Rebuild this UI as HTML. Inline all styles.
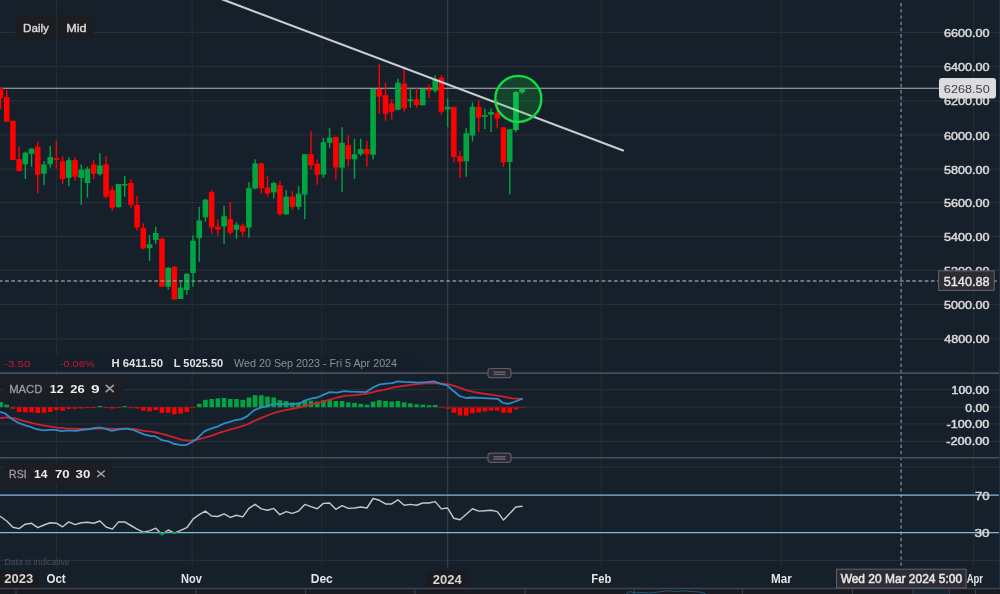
<!DOCTYPE html>
<html><head><meta charset="utf-8"><title>Chart</title>
<style>
html,body{margin:0;padding:0;background:#15202a;}
body{width:1000px;height:594px;overflow:hidden;position:relative;font-family:"Liberation Sans", Arial, sans-serif;}
svg{position:absolute;left:0;top:0;display:block;}
text{font-family:"Liberation Sans", Arial, sans-serif;}
</style></head><body>
<svg width="1000" height="594" viewBox="0 0 1000 594">
<rect x="0" y="0" width="1000" height="594" fill="#15202a"/>

<line x1="0" y1="32.45" x2="999" y2="32.45" stroke="#282e38" stroke-width="1.2"/>
<line x1="0" y1="66.5" x2="999" y2="66.5" stroke="#282e38" stroke-width="1.2"/>
<line x1="0" y1="100.8" x2="999" y2="100.8" stroke="#282e38" stroke-width="1.2"/>
<line x1="0" y1="135.0" x2="999" y2="135.0" stroke="#282e38" stroke-width="1.2"/>
<line x1="0" y1="169.2" x2="999" y2="169.2" stroke="#282e38" stroke-width="1.2"/>
<line x1="0" y1="202.5" x2="999" y2="202.5" stroke="#282e38" stroke-width="1.2"/>
<line x1="0" y1="236.4" x2="999" y2="236.4" stroke="#282e38" stroke-width="1.2"/>
<line x1="0" y1="270.2" x2="999" y2="270.2" stroke="#282e38" stroke-width="1.2"/>
<line x1="0" y1="304.5" x2="999" y2="304.5" stroke="#282e38" stroke-width="1.2"/>
<line x1="0" y1="338.8" x2="999" y2="338.8" stroke="#282e38" stroke-width="1.2"/>
<line x1="0" y1="389.7" x2="999" y2="389.7" stroke="#282e38" stroke-width="1.2"/>
<line x1="0" y1="407.2" x2="999" y2="407.2" stroke="#282e38" stroke-width="1.2"/>
<line x1="0" y1="423.9" x2="999" y2="423.9" stroke="#282e38" stroke-width="1.2"/>
<line x1="0" y1="441.3" x2="999" y2="441.3" stroke="#282e38" stroke-width="1.2"/>
<line x1="0" y1="467.2" x2="999" y2="467.2" stroke="#282e38" stroke-width="1.2"/>
<line x1="0" y1="560.3" x2="999" y2="560.3" stroke="#282e38" stroke-width="1.2"/>
<line x1="56.4" y1="0" x2="56.4" y2="568.8" stroke="#252b35" stroke-width="1.2"/>
<line x1="192.2" y1="0" x2="192.2" y2="568.8" stroke="#252b35" stroke-width="1.2"/>
<line x1="321.7" y1="0" x2="321.7" y2="568.8" stroke="#252b35" stroke-width="1.2"/>
<line x1="601.0" y1="0" x2="601.0" y2="568.8" stroke="#252b35" stroke-width="1.2"/>
<line x1="781.0" y1="0" x2="781.0" y2="568.8" stroke="#252b35" stroke-width="1.2"/>
<line x1="973.5" y1="0" x2="973.5" y2="568.8" stroke="#252b35" stroke-width="1.2"/>
<rect x="0" y="355.5" width="420" height="14" fill="#15202a" fill-opacity="0.85"/>
<line x1="447.6" y1="0" x2="447.6" y2="568.3" stroke="#383a48" stroke-width="1.3"/>
<line x1="0" y1="88.3" x2="939" y2="88.3" stroke="#b2b6ba" stroke-width="1.1"/>
<rect x="-0.20" y="88" width="1.4" height="21.0" fill="#ff0000"/>
<rect x="-2.30" y="88" width="5.6" height="10.2" fill="#ff0000"/>
<rect x="6.01" y="90.2" width="1.4" height="31.5" fill="#ff0000"/>
<rect x="3.91" y="97.2" width="5.6" height="24.5" fill="#ff0000"/>
<rect x="12.22" y="120.8" width="1.4" height="39.2" fill="#ff0000"/>
<rect x="10.12" y="120.8" width="5.6" height="39.2" fill="#ff0000"/>
<rect x="18.43" y="146.7" width="1.4" height="24.8" fill="#ff0000"/>
<rect x="16.33" y="159.2" width="5.6" height="11.8" fill="#ff0000"/>
<rect x="24.64" y="151.7" width="1.4" height="27.3" fill="#00a541"/>
<rect x="22.54" y="152.7" width="5.6" height="11.6" fill="#00a541"/>
<rect x="30.85" y="147.8" width="1.4" height="18.9" fill="#00a541"/>
<rect x="28.75" y="148.7" width="5.6" height="5.1" fill="#00a541"/>
<rect x="37.06" y="141.5" width="1.4" height="51.7" fill="#ff0000"/>
<rect x="34.96" y="146.7" width="5.6" height="28.1" fill="#ff0000"/>
<rect x="43.27" y="161" width="1.4" height="24.0" fill="#00a541"/>
<rect x="41.17" y="164.4" width="5.6" height="9.3" fill="#00a541"/>
<rect x="49.48" y="146" width="1.4" height="21.7" fill="#00a541"/>
<rect x="47.38" y="157" width="5.6" height="7.3" fill="#00a541"/>
<rect x="55.69" y="140.7" width="1.4" height="27.8" fill="#ff0000"/>
<rect x="53.59" y="158.3" width="5.6" height="1.7" fill="#ff0000"/>
<rect x="61.90" y="156.2" width="1.4" height="28.0" fill="#ff0000"/>
<rect x="59.80" y="161.3" width="5.6" height="17.7" fill="#ff0000"/>
<rect x="68.11" y="157.2" width="1.4" height="29.0" fill="#00a541"/>
<rect x="66.01" y="160.2" width="5.6" height="17.6" fill="#00a541"/>
<rect x="74.32" y="157.2" width="1.4" height="23.6" fill="#ff0000"/>
<rect x="72.22" y="160.2" width="5.6" height="16.5" fill="#ff0000"/>
<rect x="80.53" y="164.3" width="1.4" height="40.5" fill="#00a541"/>
<rect x="78.43" y="169.7" width="5.6" height="8.1" fill="#00a541"/>
<rect x="86.74" y="166.7" width="1.4" height="31.0" fill="#00a541"/>
<rect x="84.64" y="168.8" width="5.6" height="14.2" fill="#00a541"/>
<rect x="92.95" y="160.2" width="1.4" height="18.8" fill="#ff0000"/>
<rect x="90.85" y="164.4" width="5.6" height="9.3" fill="#ff0000"/>
<rect x="99.16" y="153.2" width="1.4" height="22.5" fill="#00a541"/>
<rect x="97.06" y="165.5" width="5.6" height="8.7" fill="#00a541"/>
<rect x="105.37" y="156.2" width="1.4" height="42.3" fill="#ff0000"/>
<rect x="103.27" y="164.3" width="5.6" height="32.4" fill="#ff0000"/>
<rect x="111.58" y="186.2" width="1.4" height="24.6" fill="#ff0000"/>
<rect x="109.48" y="190.2" width="5.6" height="17.6" fill="#ff0000"/>
<rect x="117.79" y="184" width="1.4" height="23.8" fill="#00a541"/>
<rect x="115.69" y="184" width="5.6" height="23.0" fill="#00a541"/>
<rect x="124.00" y="176" width="1.4" height="20.7" fill="#00a541"/>
<rect x="121.90" y="184" width="5.6" height="1.5" fill="#00a541"/>
<rect x="130.21" y="179" width="1.4" height="28.8" fill="#ff0000"/>
<rect x="128.11" y="183" width="5.6" height="21.8" fill="#ff0000"/>
<rect x="136.42" y="195.7" width="1.4" height="34.8" fill="#ff0000"/>
<rect x="134.32" y="205" width="5.6" height="22.5" fill="#ff0000"/>
<rect x="142.63" y="223.3" width="1.4" height="25.9" fill="#ff0000"/>
<rect x="140.53" y="227.8" width="5.6" height="20.7" fill="#ff0000"/>
<rect x="148.84" y="235" width="1.4" height="25.8" fill="#00a541"/>
<rect x="146.74" y="244.3" width="5.6" height="3.9" fill="#00a541"/>
<rect x="155.05" y="226.7" width="1.4" height="17.3" fill="#00a541"/>
<rect x="152.95" y="233" width="5.6" height="7.0" fill="#00a541"/>
<rect x="161.26" y="238.2" width="1.4" height="48.5" fill="#ff0000"/>
<rect x="159.16" y="238.7" width="5.6" height="48.0" fill="#ff0000"/>
<rect x="167.47" y="267" width="1.4" height="22.7" fill="#00a541"/>
<rect x="165.37" y="267.8" width="5.6" height="18.9" fill="#00a541"/>
<rect x="173.68" y="266" width="1.4" height="33.9" fill="#ff0000"/>
<rect x="171.58" y="266.7" width="5.6" height="32.6" fill="#ff0000"/>
<rect x="179.89" y="280.7" width="1.4" height="18.3" fill="#00a541"/>
<rect x="177.79" y="287.7" width="5.6" height="11.3" fill="#00a541"/>
<rect x="186.10" y="273" width="1.4" height="21.8" fill="#00a541"/>
<rect x="184.00" y="273.8" width="5.6" height="16.2" fill="#00a541"/>
<rect x="192.31" y="235.2" width="1.4" height="51.5" fill="#00a541"/>
<rect x="190.21" y="240.8" width="5.6" height="32.2" fill="#00a541"/>
<rect x="198.52" y="207" width="1.4" height="54.7" fill="#00a541"/>
<rect x="196.42" y="220.4" width="5.6" height="17.6" fill="#00a541"/>
<rect x="204.73" y="198.7" width="1.4" height="22.8" fill="#00a541"/>
<rect x="202.63" y="199.7" width="5.6" height="17.6" fill="#00a541"/>
<rect x="210.94" y="190" width="1.4" height="43.8" fill="#ff0000"/>
<rect x="208.84" y="192.2" width="5.6" height="35.3" fill="#ff0000"/>
<rect x="217.15" y="219.2" width="1.4" height="16.5" fill="#ff0000"/>
<rect x="215.05" y="226.7" width="5.6" height="3.0" fill="#ff0000"/>
<rect x="223.36" y="205.7" width="1.4" height="38.3" fill="#00a541"/>
<rect x="221.26" y="216.2" width="5.6" height="10.2" fill="#00a541"/>
<rect x="229.57" y="202" width="1.4" height="32.7" fill="#ff0000"/>
<rect x="227.47" y="219.2" width="5.6" height="13.5" fill="#ff0000"/>
<rect x="235.78" y="222.2" width="1.4" height="16.5" fill="#00a541"/>
<rect x="233.68" y="224.8" width="5.6" height="4.9" fill="#00a541"/>
<rect x="241.99" y="223.3" width="1.4" height="13.3" fill="#ff0000"/>
<rect x="239.89" y="225.6" width="5.6" height="6.1" fill="#ff0000"/>
<rect x="248.20" y="182.2" width="1.4" height="55.5" fill="#00a541"/>
<rect x="246.10" y="188.2" width="5.6" height="39.3" fill="#00a541"/>
<rect x="254.41" y="159.3" width="1.4" height="30.0" fill="#00a541"/>
<rect x="252.31" y="163.5" width="5.6" height="25.0" fill="#00a541"/>
<rect x="260.62" y="162.7" width="1.4" height="30.8" fill="#ff0000"/>
<rect x="258.52" y="163.5" width="5.6" height="24.7" fill="#ff0000"/>
<rect x="266.83" y="176.2" width="1.4" height="20.3" fill="#ff0000"/>
<rect x="264.73" y="187.5" width="5.6" height="6.0" fill="#ff0000"/>
<rect x="273.04" y="182" width="1.4" height="16.5" fill="#00a541"/>
<rect x="270.94" y="183" width="5.6" height="9.4" fill="#00a541"/>
<rect x="279.25" y="181" width="1.4" height="34.8" fill="#ff0000"/>
<rect x="277.15" y="185.2" width="5.6" height="28.8" fill="#ff0000"/>
<rect x="285.46" y="190" width="1.4" height="25.2" fill="#00a541"/>
<rect x="283.36" y="196.7" width="5.6" height="17.6" fill="#00a541"/>
<rect x="291.67" y="191.2" width="1.4" height="18.3" fill="#ff0000"/>
<rect x="289.57" y="196.7" width="5.6" height="10.1" fill="#ff0000"/>
<rect x="297.88" y="186.2" width="1.4" height="23.6" fill="#00a541"/>
<rect x="295.78" y="193.7" width="5.6" height="13.1" fill="#00a541"/>
<rect x="304.09" y="154.2" width="1.4" height="65.0" fill="#00a541"/>
<rect x="301.99" y="154.2" width="5.6" height="40.3" fill="#00a541"/>
<rect x="310.30" y="131.2" width="1.4" height="38.2" fill="#ff0000"/>
<rect x="308.20" y="154.2" width="5.6" height="11.1" fill="#ff0000"/>
<rect x="316.51" y="159.3" width="1.4" height="25.5" fill="#ff0000"/>
<rect x="314.41" y="163.8" width="5.6" height="10.9" fill="#ff0000"/>
<rect x="322.72" y="137.7" width="1.4" height="40.0" fill="#00a541"/>
<rect x="320.62" y="142.2" width="5.6" height="32.5" fill="#00a541"/>
<rect x="328.93" y="128.2" width="1.4" height="19.5" fill="#00a541"/>
<rect x="326.83" y="137.7" width="5.6" height="5.1" fill="#00a541"/>
<rect x="335.14" y="136.8" width="1.4" height="42.8" fill="#ff0000"/>
<rect x="333.04" y="136.8" width="5.6" height="30.7" fill="#ff0000"/>
<rect x="341.35" y="127.2" width="1.4" height="65.0" fill="#00a541"/>
<rect x="339.25" y="142.8" width="5.6" height="24.9" fill="#00a541"/>
<rect x="347.56" y="135.3" width="1.4" height="31.2" fill="#ff0000"/>
<rect x="345.46" y="145.2" width="5.6" height="14.1" fill="#ff0000"/>
<rect x="353.77" y="138.7" width="1.4" height="40.1" fill="#00a541"/>
<rect x="351.67" y="154.2" width="5.6" height="5.1" fill="#00a541"/>
<rect x="359.98" y="138.7" width="1.4" height="17.3" fill="#00a541"/>
<rect x="357.88" y="149" width="5.6" height="5.2" fill="#00a541"/>
<rect x="366.19" y="140.7" width="1.4" height="25.8" fill="#ff0000"/>
<rect x="364.09" y="149" width="5.6" height="5.2" fill="#ff0000"/>
<rect x="372.40" y="89" width="1.4" height="70.3" fill="#00a541"/>
<rect x="370.30" y="89" width="5.6" height="65.8" fill="#00a541"/>
<rect x="378.61" y="64.2" width="1.4" height="49.5" fill="#ff0000"/>
<rect x="376.51" y="89" width="5.6" height="7.7" fill="#ff0000"/>
<rect x="384.82" y="82.8" width="1.4" height="37.9" fill="#ff0000"/>
<rect x="382.72" y="95.2" width="5.6" height="18.5" fill="#ff0000"/>
<rect x="391.03" y="99.3" width="1.4" height="20.4" fill="#ff0000"/>
<rect x="388.93" y="103.5" width="5.6" height="8.2" fill="#ff0000"/>
<rect x="397.24" y="78.7" width="1.4" height="31.5" fill="#00a541"/>
<rect x="395.14" y="82.8" width="5.6" height="27.0" fill="#00a541"/>
<rect x="403.45" y="68.2" width="1.4" height="43.5" fill="#ff0000"/>
<rect x="401.35" y="83.7" width="5.6" height="24.6" fill="#ff0000"/>
<rect x="409.66" y="88.2" width="1.4" height="19.5" fill="#00a541"/>
<rect x="407.56" y="99.3" width="5.6" height="1.9" fill="#00a541"/>
<rect x="415.87" y="88.2" width="1.4" height="19.5" fill="#ff0000"/>
<rect x="413.77" y="99.3" width="5.6" height="5.7" fill="#ff0000"/>
<rect x="422.08" y="89" width="1.4" height="16.3" fill="#00a541"/>
<rect x="419.98" y="89" width="5.6" height="16.3" fill="#00a541"/>
<rect x="428.29" y="84.7" width="1.4" height="13.5" fill="#ff0000"/>
<rect x="426.19" y="89" width="5.6" height="1.7" fill="#ff0000"/>
<rect x="434.50" y="75.3" width="1.4" height="17.4" fill="#00a541"/>
<rect x="432.40" y="79.5" width="5.6" height="11.2" fill="#00a541"/>
<rect x="440.71" y="75" width="1.4" height="39.7" fill="#ff0000"/>
<rect x="438.61" y="77.7" width="5.6" height="34.0" fill="#ff0000"/>
<rect x="446.92" y="98.2" width="1.4" height="29.0" fill="#00a541"/>
<rect x="444.82" y="106.8" width="5.6" height="2.7" fill="#00a541"/>
<rect x="453.13" y="106.8" width="1.4" height="55.4" fill="#ff0000"/>
<rect x="451.03" y="106.8" width="5.6" height="50.2" fill="#ff0000"/>
<rect x="459.34" y="151" width="1.4" height="26.8" fill="#ff0000"/>
<rect x="457.24" y="156.2" width="5.6" height="5.6" fill="#ff0000"/>
<rect x="465.55" y="128.2" width="1.4" height="48.6" fill="#00a541"/>
<rect x="463.45" y="133.3" width="5.6" height="28.0" fill="#00a541"/>
<rect x="471.76" y="102.3" width="1.4" height="39.4" fill="#00a541"/>
<rect x="469.66" y="106.8" width="5.6" height="28.7" fill="#00a541"/>
<rect x="477.97" y="100.2" width="1.4" height="32.0" fill="#ff0000"/>
<rect x="475.87" y="106.8" width="5.6" height="10.9" fill="#ff0000"/>
<rect x="484.18" y="108.5" width="1.4" height="20.7" fill="#00a541"/>
<rect x="482.08" y="115" width="5.6" height="1.8" fill="#00a541"/>
<rect x="490.39" y="108.7" width="1.4" height="23.5" fill="#00a541"/>
<rect x="488.29" y="112" width="5.6" height="2.7" fill="#00a541"/>
<rect x="496.60" y="100.1" width="1.4" height="28.1" fill="#ff0000"/>
<rect x="494.50" y="113" width="5.6" height="5.7" fill="#ff0000"/>
<rect x="502.81" y="127.3" width="1.4" height="39.5" fill="#ff0000"/>
<rect x="500.71" y="127.3" width="5.6" height="35.0" fill="#ff0000"/>
<rect x="509.02" y="129.2" width="1.4" height="65.3" fill="#00a541"/>
<rect x="506.92" y="129.2" width="5.6" height="32.8" fill="#00a541"/>
<rect x="515.23" y="91.2" width="1.4" height="40.8" fill="#04b84c"/>
<rect x="513.13" y="92" width="5.6" height="38.0" fill="#04b84c"/>
<rect x="521.44" y="88.5" width="1.4" height="5.2" fill="#04b84c"/>
<rect x="519.34" y="88.5" width="5.6" height="3.8" fill="#04b84c"/>
<line x1="0" y1="281" x2="999" y2="281" stroke="#8c8e9e" stroke-width="1.4" stroke-dasharray="3.7 2.5135" stroke-dashoffset="1.11"/>
<line x1="222" y1="-0.8" x2="623.1" y2="150.4" stroke="#e2e2e2" stroke-opacity="0.88" stroke-width="2.1" stroke-linecap="round"/>
<circle cx="518.3" cy="98.9" r="23" fill="rgba(16,202,55,0.22)" stroke="#10dc42" stroke-width="2.4"/>
<line x1="901.1" y1="3.0" x2="901.1" y2="565.8" stroke="#84869a" stroke-width="1.3" stroke-dasharray="3.4 2.818"/>
<line x1="0" y1="373.1" x2="999" y2="373.1" stroke="#4a4e5a" stroke-width="1.6"/>
<rect x="488" y="368.5" width="23" height="9.2" rx="2.5" fill="#2b2a30" stroke="#5a5d69" stroke-width="1.2"/>
<rect x="493.5" y="371.5" width="12" height="1.3" fill="#6a6d78"/>
<rect x="493.5" y="373.8" width="12" height="1.3" fill="#6a6d78"/>
<line x1="0" y1="457.7" x2="999" y2="457.7" stroke="#4a4e5a" stroke-width="1.6"/>
<rect x="488" y="453.1" width="23" height="9.2" rx="2.5" fill="#2b2a30" stroke="#5a5d69" stroke-width="1.2"/>
<rect x="493.5" y="456.1" width="12" height="1.3" fill="#6a6d78"/>
<rect x="493.5" y="458.4" width="12" height="1.3" fill="#6a6d78"/>
<rect x="-1.80" y="402.0" width="4.6" height="5.2" fill="#00a541"/>
<rect x="4.41" y="404.7" width="4.6" height="2.5" fill="#00a541"/>
<rect x="10.62" y="407.2" width="4.6" height="1.6" fill="#ff0000"/>
<rect x="16.83" y="407.2" width="4.6" height="4.8" fill="#ff0000"/>
<rect x="23.04" y="407.2" width="4.6" height="5.2" fill="#ff0000"/>
<rect x="29.25" y="407.2" width="4.6" height="5.2" fill="#ff0000"/>
<rect x="35.46" y="407.2" width="4.6" height="5.8" fill="#ff0000"/>
<rect x="41.67" y="407.2" width="4.6" height="5.6" fill="#ff0000"/>
<rect x="47.88" y="407.2" width="4.6" height="4.8" fill="#ff0000"/>
<rect x="54.09" y="407.2" width="4.6" height="2.8" fill="#ff0000"/>
<rect x="60.30" y="407.2" width="4.6" height="3.4" fill="#ff0000"/>
<rect x="66.51" y="407.2" width="4.6" height="1.8" fill="#ff0000"/>
<rect x="72.72" y="407.2" width="4.6" height="1.6" fill="#ff0000"/>
<rect x="78.93" y="407.2" width="4.6" height="1.3" fill="#ff0000"/>
<rect x="85.14" y="407.2" width="4.6" height="0.9" fill="#ff0000"/>
<rect x="91.35" y="407.2" width="4.6" height="0.9" fill="#ff0000"/>
<rect x="97.56" y="406.0" width="4.6" height="1.2" fill="#00a541"/>
<rect x="103.77" y="407.2" width="4.6" height="0.9" fill="#ff0000"/>
<rect x="109.98" y="407.2" width="4.6" height="1.3" fill="#ff0000"/>
<rect x="116.19" y="407.2" width="4.6" height="0.9" fill="#ff0000"/>
<rect x="122.40" y="406.2" width="4.6" height="1.0" fill="#00a541"/>
<rect x="128.61" y="407.2" width="4.6" height="0.9" fill="#ff0000"/>
<rect x="134.82" y="407.2" width="4.6" height="1.3" fill="#ff0000"/>
<rect x="141.03" y="407.2" width="4.6" height="3.4" fill="#ff0000"/>
<rect x="147.24" y="407.2" width="4.6" height="4.2" fill="#ff0000"/>
<rect x="153.45" y="407.2" width="4.6" height="2.8" fill="#ff0000"/>
<rect x="159.66" y="407.2" width="4.6" height="5.8" fill="#ff0000"/>
<rect x="165.87" y="407.2" width="4.6" height="5.6" fill="#ff0000"/>
<rect x="172.08" y="407.2" width="4.6" height="7.0" fill="#ff0000"/>
<rect x="178.29" y="407.2" width="4.6" height="6.5" fill="#ff0000"/>
<rect x="184.50" y="407.2" width="4.6" height="4.7" fill="#ff0000"/>
<rect x="190.71" y="407.2" width="4.6" height="0.9" fill="#ff0000"/>
<rect x="196.92" y="403.8" width="4.6" height="3.4" fill="#00a541"/>
<rect x="203.13" y="399.8" width="4.6" height="7.4" fill="#00a541"/>
<rect x="209.34" y="399.0" width="4.6" height="8.2" fill="#00a541"/>
<rect x="215.55" y="398.4" width="4.6" height="8.8" fill="#00a541"/>
<rect x="221.76" y="398.0" width="4.6" height="9.2" fill="#00a541"/>
<rect x="227.97" y="399.0" width="4.6" height="8.2" fill="#00a541"/>
<rect x="234.18" y="399.0" width="4.6" height="8.2" fill="#00a541"/>
<rect x="240.39" y="399.8" width="4.6" height="7.4" fill="#00a541"/>
<rect x="246.60" y="397.5" width="4.6" height="9.7" fill="#00a541"/>
<rect x="252.81" y="395.2" width="4.6" height="12.0" fill="#00a541"/>
<rect x="259.02" y="395.3" width="4.6" height="11.9" fill="#00a541"/>
<rect x="265.23" y="396.6" width="4.6" height="10.6" fill="#00a541"/>
<rect x="271.44" y="397.5" width="4.6" height="9.7" fill="#00a541"/>
<rect x="277.65" y="400.2" width="4.6" height="7.0" fill="#00a541"/>
<rect x="283.86" y="401.0" width="4.6" height="6.2" fill="#00a541"/>
<rect x="290.07" y="402.4" width="4.6" height="4.8" fill="#00a541"/>
<rect x="296.28" y="402.9" width="4.6" height="4.3" fill="#00a541"/>
<rect x="302.49" y="400.6" width="4.6" height="6.6" fill="#00a541"/>
<rect x="308.70" y="400.6" width="4.6" height="6.6" fill="#00a541"/>
<rect x="314.91" y="401.6" width="4.6" height="5.6" fill="#00a541"/>
<rect x="321.12" y="400.2" width="4.6" height="7.0" fill="#00a541"/>
<rect x="327.33" y="399.8" width="4.6" height="7.4" fill="#00a541"/>
<rect x="333.54" y="401.0" width="4.6" height="6.2" fill="#00a541"/>
<rect x="339.75" y="401.0" width="4.6" height="6.2" fill="#00a541"/>
<rect x="345.96" y="402.4" width="4.6" height="4.8" fill="#00a541"/>
<rect x="352.17" y="402.9" width="4.6" height="4.3" fill="#00a541"/>
<rect x="358.38" y="403.8" width="4.6" height="3.4" fill="#00a541"/>
<rect x="364.59" y="404.7" width="4.6" height="2.5" fill="#00a541"/>
<rect x="370.80" y="401.6" width="4.6" height="5.6" fill="#00a541"/>
<rect x="377.01" y="400.2" width="4.6" height="7.0" fill="#00a541"/>
<rect x="383.22" y="401.0" width="4.6" height="6.2" fill="#00a541"/>
<rect x="389.43" y="401.6" width="4.6" height="5.6" fill="#00a541"/>
<rect x="395.64" y="401.0" width="4.6" height="6.2" fill="#00a541"/>
<rect x="401.85" y="402.4" width="4.6" height="4.8" fill="#00a541"/>
<rect x="408.06" y="403.4" width="4.6" height="3.8" fill="#00a541"/>
<rect x="414.27" y="404.3" width="4.6" height="2.9" fill="#00a541"/>
<rect x="420.48" y="404.7" width="4.6" height="2.5" fill="#00a541"/>
<rect x="426.69" y="405.2" width="4.6" height="2.0" fill="#00a541"/>
<rect x="432.90" y="405.0" width="4.6" height="2.2" fill="#00a541"/>
<rect x="439.11" y="407.2" width="4.6" height="0.9" fill="#ff0000"/>
<rect x="445.32" y="407.2" width="4.6" height="1.6" fill="#ff0000"/>
<rect x="451.53" y="407.2" width="4.6" height="5.6" fill="#ff0000"/>
<rect x="457.74" y="407.2" width="4.6" height="8.3" fill="#ff0000"/>
<rect x="463.95" y="407.2" width="4.6" height="8.3" fill="#ff0000"/>
<rect x="470.16" y="407.2" width="4.6" height="6.0" fill="#ff0000"/>
<rect x="476.37" y="407.2" width="4.6" height="5.2" fill="#ff0000"/>
<rect x="482.58" y="407.2" width="4.6" height="4.3" fill="#ff0000"/>
<rect x="488.79" y="407.2" width="4.6" height="3.4" fill="#ff0000"/>
<rect x="495.00" y="407.2" width="4.6" height="3.4" fill="#ff0000"/>
<rect x="501.21" y="407.2" width="4.6" height="5.6" fill="#ff0000"/>
<rect x="507.42" y="407.2" width="4.6" height="5.6" fill="#ff0000"/>
<rect x="513.63" y="407.2" width="4.6" height="2.3" fill="#ff0000"/>
<line x1="438" y1="407.4" x2="525" y2="407.4" stroke="#8a1822" stroke-width="0.9"/>
<polyline points="0.0,418.2 7.2,417.3 14.4,418.2 21.6,420.4 28.8,422.2 36.0,424.0 43.2,425.4 50.4,426.7 57.6,427.6 64.8,428.3 72.0,428.6 79.2,429.0 86.4,429.0 93.6,428.6 100.8,428.3 108.0,428.6 115.2,429.0 122.4,428.6 129.6,428.6 136.8,429.4 144.0,430.8 151.2,431.7 158.4,433.0 165.6,434.8 172.8,437.1 175.0,437.6 182.2,439.8 189.4,440.7 194.8,440.2 202.0,438.4 211.0,435.8 220.0,432.6 229.0,429.9 239.8,426.8 247.0,424.5 254.2,420.9 261.4,417.8 268.6,415.0 275.8,412.4 283.0,410.6 292.0,408.8 301.0,407.0 310.0,404.7 319.0,402.9 328.0,400.2 337.0,397.5 346.0,395.7 350.0,395.7 366.2,393.9 377.0,391.2 386.0,389.4 395.0,387.2 404.0,385.8 413.0,384.5 422.0,383.6 431.0,383.1 440.0,383.3 449.0,384.4 458.0,387.2 467.0,390.3 476.0,392.5 485.0,393.9 494.0,395.2 503.0,396.6 512.0,398.4 521.9,398.9" fill="none" stroke="#d11f2d" stroke-width="1.8" stroke-linejoin="round" stroke-linecap="round" />
<polyline points="0.0,411.9 5.4,413.7 10.8,418.2 18.0,422.7 25.2,425.4 30.6,426.8 36.0,429.0 43.2,430.3 50.4,429.9 55.8,429.9 61.2,431.2 68.4,430.4 75.6,430.8 82.8,429.9 90.0,429.0 97.2,427.6 100.8,427.6 106.2,429.0 111.6,430.8 118.8,429.4 126.0,428.6 133.2,429.9 138.6,432.2 144.0,434.4 151.2,436.2 154.8,436.2 158.4,438.0 162.0,440.2 169.2,441.6 174.6,444.3 175.0,443.9 180.4,445.2 185.8,445.2 191.2,442.5 196.6,438.9 200.2,435.3 204.7,431.2 211.0,428.6 218.2,426.3 223.6,423.6 229.0,422.2 234.4,420.4 241.6,419.1 247.0,416.4 254.2,410.1 261.4,407.4 268.6,406.0 273.1,403.8 279.4,404.2 286.6,404.2 293.8,404.2 301.0,402.9 304.6,400.6 311.8,398.4 317.2,397.5 324.4,394.4 329.8,392.1 337.0,392.6 344.2,391.2 350.0,391.6 366.2,392.1 373.4,387.2 379.7,384.4 386.0,383.6 392.3,383.1 397.7,381.3 404.0,381.8 411.2,382.2 418.4,382.6 425.6,382.2 434.6,381.5 440.0,383.6 447.2,385.4 452.6,390.3 459.8,396.2 466.1,398.0 472.4,397.5 479.6,397.9 488.6,398.4 497.6,398.8 503.0,402.9 508.4,403.8 513.8,402.0 521.9,398.8" fill="none" stroke="#2f8bcb" stroke-width="1.8" stroke-linejoin="round" stroke-linecap="round" />
<line x1="0" y1="495.2" x2="999" y2="495.2" stroke="#86b6e0" stroke-width="1.25"/>
<line x1="0" y1="532.5" x2="999" y2="532.5" stroke="#86b6e0" stroke-width="1.25"/>
<polyline points="0.5,516.5 6.7,521.0 12.9,527.3 19.1,528.6 25.3,524.2 31.6,523.3 37.8,527.7 44.0,525.0 50.2,522.8 56.4,523.2 62.6,526.8 68.8,521.9 75.0,524.6 81.2,522.8 87.4,522.3 93.7,523.3 99.9,521.0 106.1,527.0 112.3,529.1 118.5,521.9 124.7,521.9 130.9,525.5 137.1,529.1 143.3,532.2 149.5,530.9 155.8,528.2 162.0,534.5 168.2,530.0 174.4,533.2 180.6,530.4 186.8,527.7 193.0,519.2 199.2,514.7 205.4,511.1 211.6,516.0 217.8,516.5 224.1,513.8 230.3,517.4 236.5,515.2 242.7,516.9 248.9,508.4 255.1,504.3 261.3,508.9 267.5,510.2 273.7,508.4 279.9,514.7 286.2,511.6 292.4,513.4 298.6,511.1 304.8,504.4 311.0,506.6 317.2,508.8 323.4,503.4 329.6,503.0 335.8,509.3 342.1,505.7 348.3,508.4 354.5,508.0 360.7,507.0 366.9,508.0 373.1,498.5 379.3,500.3 385.5,503.9 391.7,503.9 397.9,499.8 404.1,505.3 410.4,504.4 416.6,505.3 422.8,503.0 429.0,503.0 435.2,501.6 441.4,508.9 447.6,508.0 453.8,518.3 460.0,519.7 466.2,514.2 472.5,508.8 478.7,511.1 484.9,510.7 491.1,510.2 497.3,511.6 503.5,520.1 509.7,513.4 515.9,507.0 522.1,506.2" fill="none" stroke="#c6c6c6" stroke-width="1.45" stroke-linejoin="round" stroke-linecap="round" />
<clipPath id="below30"><rect x="0" y="532.3" width="1000" height="10"/></clipPath>
<polyline points="0.5,516.5 6.7,521.0 12.9,527.3 19.1,528.6 25.3,524.2 31.6,523.3 37.8,527.7 44.0,525.0 50.2,522.8 56.4,523.2 62.6,526.8 68.8,521.9 75.0,524.6 81.2,522.8 87.4,522.3 93.7,523.3 99.9,521.0 106.1,527.0 112.3,529.1 118.5,521.9 124.7,521.9 130.9,525.5 137.1,529.1 143.3,532.2 149.5,530.9 155.8,528.2 162.0,534.5 168.2,530.0 174.4,533.2 180.6,530.4 186.8,527.7 193.0,519.2 199.2,514.7 205.4,511.1 211.6,516.0 217.8,516.5 224.1,513.8 230.3,517.4 236.5,515.2 242.7,516.9 248.9,508.4 255.1,504.3 261.3,508.9 267.5,510.2 273.7,508.4 279.9,514.7 286.2,511.6 292.4,513.4 298.6,511.1 304.8,504.4 311.0,506.6 317.2,508.8 323.4,503.4 329.6,503.0 335.8,509.3 342.1,505.7 348.3,508.4 354.5,508.0 360.7,507.0 366.9,508.0 373.1,498.5 379.3,500.3 385.5,503.9 391.7,503.9 397.9,499.8 404.1,505.3 410.4,504.4 416.6,505.3 422.8,503.0 429.0,503.0 435.2,501.6 441.4,508.9 447.6,508.0 453.8,518.3 460.0,519.7 466.2,514.2 472.5,508.8 478.7,511.1 484.9,510.7 491.1,510.2 497.3,511.6 503.5,520.1 509.7,513.4 515.9,507.0 522.1,506.2" fill="none" stroke="#00a541" stroke-width="2.0" stroke-linejoin="round" stroke-linecap="round" clip-path="url(#below30)"/>
<text x="943.97" y="37" font-size="11.75" font-weight="normal" fill="#d8d8d8" textLength="45.67" lengthAdjust="spacingAndGlyphs" stroke="#d8d8d8" stroke-width="0.5">6600.00</text>
<text x="943.97" y="71" font-size="11.75" font-weight="normal" fill="#d8d8d8" textLength="45.67" lengthAdjust="spacingAndGlyphs" stroke="#d8d8d8" stroke-width="0.5">6400.00</text>
<text x="943.97" y="105" font-size="11.75" font-weight="normal" fill="#d8d8d8" textLength="45.67" lengthAdjust="spacingAndGlyphs" stroke="#d8d8d8" stroke-width="0.5">6200.00</text>
<text x="943.97" y="140" font-size="11.75" font-weight="normal" fill="#d8d8d8" textLength="45.67" lengthAdjust="spacingAndGlyphs" stroke="#d8d8d8" stroke-width="0.5">6000.00</text>
<text x="944.11" y="174" font-size="11.75" font-weight="normal" fill="#d8d8d8" textLength="45.42" lengthAdjust="spacingAndGlyphs" stroke="#d8d8d8" stroke-width="0.5">5800.00</text>
<text x="944.11" y="207" font-size="11.75" font-weight="normal" fill="#d8d8d8" textLength="45.42" lengthAdjust="spacingAndGlyphs" stroke="#d8d8d8" stroke-width="0.5">5600.00</text>
<text x="944.11" y="241" font-size="11.75" font-weight="normal" fill="#d8d8d8" textLength="45.42" lengthAdjust="spacingAndGlyphs" stroke="#d8d8d8" stroke-width="0.5">5400.00</text>
<text x="944.11" y="275" font-size="11.75" font-weight="normal" fill="#d8d8d8" textLength="45.42" lengthAdjust="spacingAndGlyphs" stroke="#d8d8d8" stroke-width="0.5">5200.00</text>
<text x="944.11" y="309" font-size="11.75" font-weight="normal" fill="#d8d8d8" textLength="45.42" lengthAdjust="spacingAndGlyphs" stroke="#d8d8d8" stroke-width="0.5">5000.00</text>
<text x="944.38" y="343" font-size="11.75" font-weight="normal" fill="#d8d8d8" textLength="45.16" lengthAdjust="spacingAndGlyphs" stroke="#d8d8d8" stroke-width="0.5">4800.00</text>
<rect x="939" y="78.1" width="57" height="20.3" rx="3" fill="#dcdce0"/>
<text x="943.85" y="93" font-size="11.32" font-weight="normal" fill="#3e3f44" textLength="45.91" lengthAdjust="spacingAndGlyphs" >6268.50</text>
<rect x="938.6" y="270.8" width="55.6" height="19.6" fill="#2d2c33" stroke="#5e5c6e" stroke-width="1.1"/>
<text x="943.65" y="286" font-size="12.18" font-weight="normal" fill="#eaeaea" textLength="46.01" lengthAdjust="spacingAndGlyphs" stroke="#eaeaea" stroke-width="0.35">5140.88</text>
<text x="951.57" y="394" font-size="10.32" font-weight="normal" fill="#d8d8d8" textLength="37.52" lengthAdjust="spacingAndGlyphs" stroke="#d8d8d8" stroke-width="0.5">100.00</text>
<text x="965.35" y="412" font-size="10.32" font-weight="normal" fill="#d8d8d8" textLength="23.79" lengthAdjust="spacingAndGlyphs" stroke="#d8d8d8" stroke-width="0.5">0.00</text>
<text x="946.50" y="428" font-size="10.74" font-weight="normal" fill="#d8d8d8" textLength="42.92" lengthAdjust="spacingAndGlyphs" stroke="#d8d8d8" stroke-width="0.5">-100.00</text>
<text x="946.21" y="445" font-size="10.46" font-weight="normal" fill="#d8d8d8" textLength="43.19" lengthAdjust="spacingAndGlyphs" stroke="#d8d8d8" stroke-width="0.5">-200.00</text>
<text x="974.91" y="500" font-size="11.60" font-weight="normal" fill="#d8d8d8" textLength="14.75" lengthAdjust="spacingAndGlyphs" stroke="#d8d8d8" stroke-width="0.5">70</text>
<text x="974.56" y="537" font-size="11.03" font-weight="normal" fill="#d8d8d8" textLength="15.03" lengthAdjust="spacingAndGlyphs" stroke="#d8d8d8" stroke-width="0.5">30</text>
<rect x="0" y="588.6" width="1000" height="6" fill="#181b21"/>
<rect x="913" y="589" width="37" height="5" fill="#182531"/>
<line x1="0" y1="588.4" x2="1000" y2="588.4" stroke="#3f434d" stroke-width="1.5"/>
<line x1="16" y1="589.2" x2="16" y2="594" stroke="#3a3e48" stroke-width="1.1"/>
<line x1="196" y1="589.2" x2="196" y2="594" stroke="#3a3e48" stroke-width="1.1"/>
<line x1="305.5" y1="589.2" x2="305.5" y2="594" stroke="#3a3e48" stroke-width="1.1"/>
<line x1="415" y1="589.2" x2="415" y2="594" stroke="#3a3e48" stroke-width="1.1"/>
<line x1="525" y1="589.2" x2="525" y2="594" stroke="#3a3e48" stroke-width="1.1"/>
<line x1="634" y1="589.2" x2="634" y2="594" stroke="#3a3e48" stroke-width="1.1"/>
<line x1="742.5" y1="589.2" x2="742.5" y2="594" stroke="#3a3e48" stroke-width="1.1"/>
<line x1="852.5" y1="589.2" x2="852.5" y2="594" stroke="#3a3e48" stroke-width="1.1"/>
<line x1="913" y1="589.2" x2="913" y2="594" stroke="#3a3e48" stroke-width="1.1"/>
<line x1="949.5" y1="589.2" x2="949.5" y2="594" stroke="#3a3e48" stroke-width="1.1"/>
<line x1="975.5" y1="589.2" x2="975.5" y2="594" stroke="#3a3e48" stroke-width="1.1"/>
<polyline points="626,594 630,591.5 634,593 640,592.5 650,593 660,591.8 668,590.8 676,591.5 684,590.9 692,591.6 700,592 706,594" fill="none" stroke="#1e5a78" stroke-width="1"/>
<rect x="0" y="570.9" width="39" height="16.3" fill="#1b1a1e"/>
<rect x="427.2" y="570.7" width="40.2" height="16.3" fill="#1b1a1e"/>
<text x="4.26" y="583" font-size="12.61" font-weight="bold" fill="#d6d6d6" textLength="28.94" lengthAdjust="spacingAndGlyphs" >2023</text>
<text x="46.43" y="583" font-size="11.92" font-weight="bold" fill="#e4e4e4" textLength="19.29" lengthAdjust="spacingAndGlyphs" >Oct</text>
<text x="181.09" y="583" font-size="12.50" font-weight="bold" fill="#e4e4e4" textLength="20.81" lengthAdjust="spacingAndGlyphs" >Nov</text>
<text x="310.73" y="583" font-size="12.50" font-weight="bold" fill="#e4e4e4" textLength="22.10" lengthAdjust="spacingAndGlyphs" >Dec</text>
<text x="432.83" y="584" font-size="12.89" font-weight="bold" fill="#d6d6d6" textLength="28.92" lengthAdjust="spacingAndGlyphs" >2024</text>
<text x="591.30" y="583" font-size="12.50" font-weight="bold" fill="#e4e4e4" textLength="20.02" lengthAdjust="spacingAndGlyphs" >Feb</text>
<text x="771.03" y="583" font-size="12.50" font-weight="bold" fill="#e4e4e4" textLength="20.88" lengthAdjust="spacingAndGlyphs" >Mar</text>
<text x="966.65" y="583" font-size="12.35" font-weight="bold" fill="#e4e4e4" textLength="16.43" lengthAdjust="spacingAndGlyphs" >Apr</text>
<rect x="836.5" y="569.2" width="129.6" height="18.8" fill="#2d2c33" stroke="#5e5c6e" stroke-width="1.1"/>
<text x="840.67" y="583" font-size="12.18" font-weight="normal" fill="#e4e4e4" textLength="121.38" lengthAdjust="spacingAndGlyphs" stroke="#e4e4e4" stroke-width="0.55">Wed 20 Mar 2024 5:00</text>
<text x="4.50" y="565" font-size="9.59" font-weight="normal" fill="#4a4f59" textLength="65.12" lengthAdjust="spacingAndGlyphs" >Data is indicative</text>
<rect x="15.8" y="14.5" width="40.4" height="24.1" rx="1.5" fill="#1c1d21"/>
<rect x="58.9" y="14.5" width="34.8" height="24.1" rx="1.5" fill="#1c1d21"/>
<text x="22.98" y="32" font-size="11.34" font-weight="normal" fill="#d8d8d8" textLength="25.93" lengthAdjust="spacingAndGlyphs" stroke="#d8d8d8" stroke-width="0.4">Daily</text>
<text x="66.18" y="32" font-size="11.34" font-weight="normal" fill="#d8d8d8" textLength="20.41" lengthAdjust="spacingAndGlyphs" stroke="#d8d8d8" stroke-width="0.4">Mid</text>
<text x="4.17" y="367" font-size="9.46" font-weight="normal" fill="#cc1530" textLength="26.19" lengthAdjust="spacingAndGlyphs" >-3.50</text>
<text x="60.01" y="367" font-size="9.74" font-weight="normal" fill="#cc1530" textLength="34.28" lengthAdjust="spacingAndGlyphs" >-0.06%</text>
<text x="111.40" y="367" font-size="10.60" font-weight="bold" fill="#e2e2e2" textLength="51.72" lengthAdjust="spacingAndGlyphs" >H 6411.50</text>
<text x="173.74" y="367" font-size="10.60" font-weight="bold" fill="#e2e2e2" textLength="49.48" lengthAdjust="spacingAndGlyphs" >L 5025.50</text>
<text x="234.06" y="367" font-size="10.32" font-weight="normal" fill="#8e9096" textLength="163.05" lengthAdjust="spacingAndGlyphs" >Wed 20 Sep 2023 - Fri 5 Apr 2024</text>
<rect x="2.8" y="377.8" width="120" height="20.8" rx="3" fill="#1d1e23"/>
<text x="9.22" y="393" font-size="11.34" font-weight="normal" fill="#9c9da3" textLength="33.11" lengthAdjust="spacingAndGlyphs" stroke="#9c9da3" stroke-width="0.3">MACD</text>
<text x="49.78" y="393" font-size="11.32" font-weight="bold" fill="#ececec" textLength="13.77" lengthAdjust="spacingAndGlyphs" >12</text>
<text x="70.30" y="393" font-size="11.32" font-weight="bold" fill="#ececec" textLength="14.44" lengthAdjust="spacingAndGlyphs" >26</text>
<text x="91.07" y="393" font-size="11.32" font-weight="bold" fill="#ececec" textLength="8.63" lengthAdjust="spacingAndGlyphs" >9</text>
<path d="M106.2,385.4 L113.3,391.6 M113.3,385.4 L106.2,391.6" stroke="#a09fb0" stroke-width="1.6" stroke-linecap="round"/>
<rect x="3" y="462.8" width="110.4" height="20.8" rx="3" fill="#1d1e23"/>
<text x="9.07" y="478" font-size="10.76" font-weight="normal" fill="#9c9da3" textLength="17.49" lengthAdjust="spacingAndGlyphs" stroke="#9c9da3" stroke-width="0.3">RSI</text>
<text x="33.93" y="478" font-size="10.89" font-weight="bold" fill="#ececec" textLength="13.52" lengthAdjust="spacingAndGlyphs" >14</text>
<text x="54.93" y="478" font-size="10.89" font-weight="bold" fill="#ececec" textLength="14.68" lengthAdjust="spacingAndGlyphs" >70</text>
<text x="75.64" y="478" font-size="10.89" font-weight="bold" fill="#ececec" textLength="14.69" lengthAdjust="spacingAndGlyphs" >30</text>
<path d="M97.7,471.0 L104.3,476.5 M104.3,471.0 L97.7,476.5" stroke="#a09fb0" stroke-width="1.6" stroke-linecap="round"/>
<rect x="999" y="0" width="1" height="588" fill="#223040"/>
</svg>
</body></html>
